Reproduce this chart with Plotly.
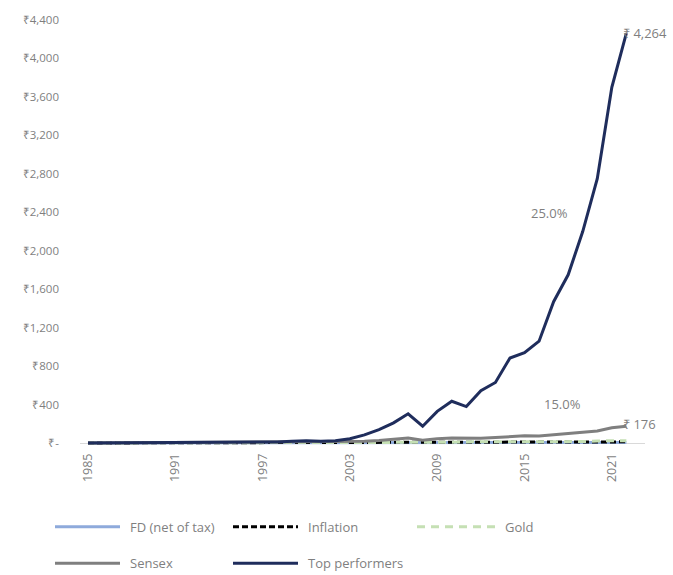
import plotly.graph_objects as go

# Growth of ₹1 invested in 1985
years = list(range(1985, 2023))

fd_net = [1.00, 1.07, 1.14, 1.22, 1.30, 1.39, 1.49, 1.59, 1.70, 1.81, 1.93, 2.07, 2.21,
          2.35, 2.50, 2.66, 2.82, 2.98, 3.13, 3.27, 3.41, 3.55, 3.71, 3.90, 4.10, 4.27,
          4.45, 4.67, 4.92, 5.18, 5.45, 5.71, 5.96, 6.20, 6.45, 6.70, 6.93, 7.20]
inflation = [1.00, 1.09, 1.18, 1.29, 1.37, 1.49, 1.69, 1.90, 2.02, 2.22, 2.44, 2.66, 2.84,
             3.21, 3.36, 3.49, 3.62, 3.78, 3.92, 4.07, 4.24, 4.50, 4.79, 5.19, 5.82, 6.51,
             7.07, 7.74, 8.47, 8.99, 9.43, 9.89, 10.21, 10.57, 10.97, 11.68, 12.27, 12.93]
gold = [1.0, 1.0, 1.1, 1.2, 1.2, 1.5, 1.6, 1.6, 1.8, 2.0, 2.1, 2.2, 2.0, 1.9, 2.0, 2.1,
        2.2, 2.4, 2.7, 2.9, 3.3, 4.3, 4.8, 6.1, 7.4, 8.5, 12.3, 14.5, 14.2, 13.3, 12.7,
        13.0, 14.1, 14.3, 16.1, 22.3, 22.4, 24.4]
sensex = [1, 1.6, 1.3, 1.4, 2.0, 2.8, 4.8, 9, 6.5, 12, 9, 9.5, 10, 9, 14, 12, 9.5, 9.5,
          15, 18, 26, 38, 52, 29, 45, 53, 48, 50, 58, 70, 76, 74, 88, 97, 115, 125, 160, 176]
top_performers = [1.0, 1.3, 1.5, 1.8, 2.3, 2.8, 3.5, 4.5, 5.5, 6.8, 7.5, 8.5, 10, 12, 18,
                  24, 20, 25, 45, 85, 140, 210, 305, 175, 330, 435, 380, 545, 630, 885,
                  940, 1060, 1470, 1750, 2200, 2750, 3700, 4264]

y_ticks = list(range(0, 4401, 400))
y_tick_text = ["₹-"] + [f"₹{v:,}" for v in y_ticks[1:]]
x_ticks = [1985, 1991, 1997, 2003, 2009, 2015, 2021]

GREY = "#7f7f7f"
FONT = "Open Sans"

series = [
    ("FD (net of tax)", fd_net, "#8eaadb", "solid"),
    ("Inflation", inflation, "#000000", "6px,3px"),
    ("Gold", gold, "#c5e0b4", "8px,6px"),
    ("Sensex", sensex, "#7f7f7f", "solid"),
    ("Top performers", top_performers, "#1f2d5c", "solid"),
]

fig = go.Figure()
for name, vals, color, dash in series:
    fig.add_trace(go.Scatter(x=years, y=vals, name=name, mode="lines",
                             line=dict(color=color, width=3, dash=dash),
                             showlegend=False))

# End-point value labels and CAGR notes
fig.add_annotation(x=years[-1], y=top_performers[-1], text=f"₹ {top_performers[-1]:,}",
                   xanchor="left", xshift=-5, showarrow=False,
                   font=dict(size=13, color=GREY, family=FONT))
fig.add_annotation(x=years[-1], y=sensex[-1], text=f"₹ {sensex[-1]:,}",
                   xanchor="left", xshift=-5, yshift=2, showarrow=False,
                   font=dict(size=13, color=GREY, family=FONT))
fig.add_annotation(x=2016.75, y=2390, text="25.0%", showarrow=False,
                   font=dict(size=13, color=GREY, family=FONT))
fig.add_annotation(x=2017.6, y=410, text="15.0%", showarrow=False,
                   font=dict(size=13, color=GREY, family=FONT))

# Legend drawn below the plot: two rows of swatch + label
L, R, TOP, BOT = 80, 645, 14, 445
def px_x(p):
    return (p - L) / (R - L)
def px_y(p):
    return (BOT - p) / (BOT - TOP)

legend_pos = [(55, 528), (233, 528), (417, 528), (55, 565), (233, 565)]
for (name, _, color, dash), (lx, ly) in zip(series, legend_pos):
    sw = 78 if name == "Gold" else 65
    fig.add_shape(type="line", xref="paper", yref="paper",
                  x0=px_x(lx), x1=px_x(lx + sw), y0=px_y(ly), y1=px_y(ly),
                  line=dict(color=color, width=3, dash=dash))
    fig.add_annotation(xref="paper", yref="paper", x=px_x(lx + sw + 8), y=px_y(ly),
                       text=name, xanchor="left", yanchor="middle", showarrow=False,
                       font=dict(size=13, color=GREY, family=FONT))

fig.update_layout(
    width=673, height=575,
    margin=dict(l=L, r=673 - R, t=TOP, b=575 - BOT),
    plot_bgcolor="white", paper_bgcolor="white",
    font=dict(family=FONT, color=GREY, size=11),
    showlegend=False,
)
fig.update_xaxes(range=[1984.45, 2023.28], tickvals=x_ticks, tickangle=-90,
                 showgrid=False, zeroline=False, showline=False,
                 tickfont=dict(size=12.5, color=GREY), ticks="", ticklabelstandoff=5)
fig.update_yaxes(range=[-20, 4400], tickvals=y_ticks, ticktext=y_tick_text,
                 showgrid=False, zeroline=True, zerolinecolor="#d9d9d9", zerolinewidth=1,
                 showline=False, ticks="", tickfont=dict(size=11.5, color=GREY),
                 ticklabelstandoff=20)

fig.write_html("out.html")
